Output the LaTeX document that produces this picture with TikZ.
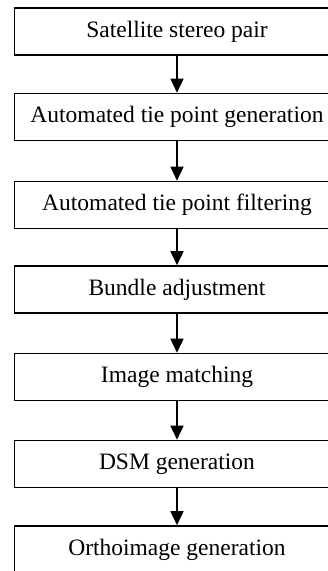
\documentclass[tikz,border=0pt]{standalone}
\usepackage{fontspec}
\setmainfont{Liberation Serif}
\usetikzlibrary{arrows.meta}
\begin{document}
\begin{tikzpicture}[x=1pt,y=-1pt,
  stepbox/.style={draw, line width=1.6pt, fill=white, minimum width=325pt, minimum height=47pt, inner sep=0pt, font=\fontsize{23.5}{27}\selectfont},
  flow/.style={line width=1.6pt, -{Triangle[length=14pt,width=13pt]}}]
\clip (0,0) rectangle (328,571);
\node[stepbox] (a) at (177,31.5) {Satellite stereo pair};
\node[stepbox] (b) at (177,117) {Automated tie point generation};
\node[stepbox] (c) at (177,205) {Automated tie point filtering};
\node[stepbox] (d) at (177,289.5) {Bundle adjustment};
\node[stepbox] (e) at (177,377) {Image matching};
\node[stepbox] (f) at (177,464) {DSM generation};
\node[stepbox] (g) at (177,549.5) {Orthoimage generation};
\draw[flow] (a) -- (b);
\draw[flow] (b) -- (c);
\draw[flow] (c) -- (d);
\draw[flow] (d) -- (e);
\draw[flow] (e) -- (f);
\draw[flow] (f) -- (g);
\end{tikzpicture}
\end{document}
